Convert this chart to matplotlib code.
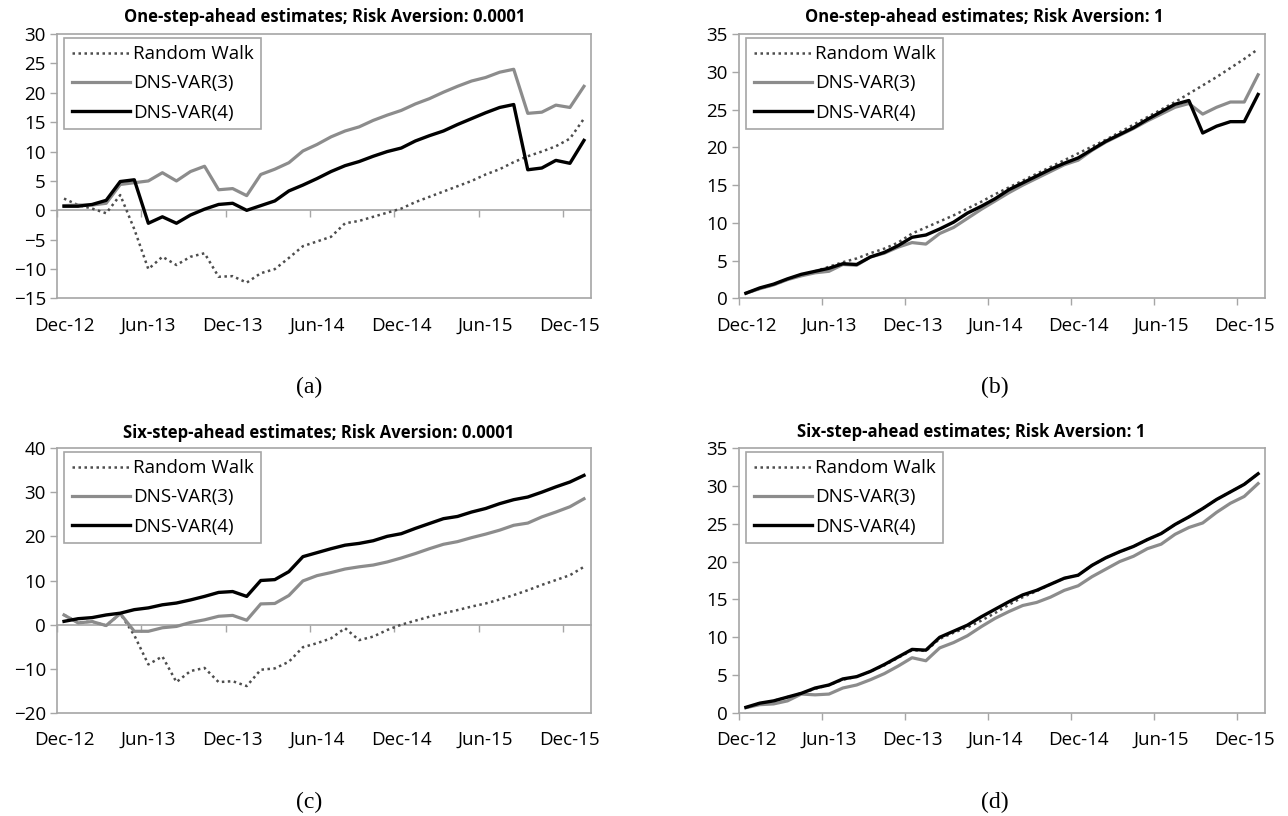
import numpy as np
import matplotlib.pyplot as plt

plt.rcParams['font.family'] = ['Open Sans', 'DejaVu Sans']

# monthly observations Dec-12 .. Jan-16
months = np.arange(38)
label_pos = [0, 6, 12, 18, 24, 30, 36]
tick_labels = ["Dec-12", "Jun-13", "Dec-13", "Jun-14", "Dec-14", "Jun-15", "Dec-15"]
series_names = ["Random Walk", "DNS-VAR(3)", "DNS-VAR(4)"]

# (a) one-step-ahead, risk aversion 0.0001
rw_a = [2.0, 0.9, 0.3, -0.5, 2.6, -3.2, -10.0, -7.9, -9.3, -7.9,
        -7.3, -11.3, -11.2, -12.3, -10.7, -10.0, -8.1, -6.1, -5.3, -4.5,
        -2.2, -1.8, -1.1, -0.4, 0.3, 1.4, 2.3, 3.2, 4.1, 5.0,
        6.1, 7.0, 8.2, 9.2, 10.0, 10.9, 12.2, 15.6]
var3_a = [0.8, 0.9, 0.9, 1.2, 4.4, 4.7, 5.0, 6.4, 5.0, 6.6,
          7.5, 3.5, 3.7, 2.5, 6.1, 7.0, 8.1, 10.1, 11.2, 12.5,
          13.5, 14.2, 15.3, 16.2, 17.0, 18.1, 19.0, 20.1, 21.1, 22.0,
          22.6, 23.5, 24.0, 16.5, 16.7, 17.9, 17.5, 21.1]
var4_a = [0.7, 0.7, 1.0, 1.7, 4.9, 5.2, -2.2, -1.1, -2.2, -0.8,
          0.2, 1.0, 1.2, 0.0, 0.8, 1.6, 3.3, 4.3, 5.4, 6.6,
          7.6, 8.3, 9.2, 10.0, 10.6, 11.8, 12.7, 13.5, 14.6, 15.6,
          16.6, 17.5, 18.0, 6.9, 7.2, 8.5, 8.0, 11.9]

# (b) one-step-ahead, risk aversion 1
rw_b = [0.7, 1.3, 1.8, 2.5, 3.1, 3.6, 4.2, 4.8, 5.3, 6.0,
        6.6, 7.4, 8.6, 9.4, 10.2, 11.0, 11.9, 12.8, 13.8, 14.7,
        15.6, 16.5, 17.4, 18.3, 19.2, 20.1, 21.0, 22.0, 23.0, 24.0,
        25.0, 26.0, 27.1, 28.2, 29.3, 30.5, 31.7, 33.0]
var3_b = [0.7, 1.3, 1.8, 2.5, 3.0, 3.4, 3.6, 4.5, 4.4, 5.5,
          6.0, 6.8, 7.4, 7.2, 8.6, 9.4, 10.6, 11.8, 12.9, 14.0,
          15.0, 15.9, 16.8, 17.7, 18.3, 19.6, 20.7, 21.6, 22.5, 23.5,
          24.4, 25.3, 25.8, 24.4, 25.3, 26.0, 26.0, 29.6]
var4_b = [0.7, 1.4, 1.9, 2.6, 3.2, 3.6, 4.0, 4.6, 4.5, 5.5,
          6.1, 7.0, 8.1, 8.4, 9.2, 10.1, 11.3, 12.2, 13.2, 14.4,
          15.3, 16.2, 17.1, 17.9, 18.6, 19.7, 20.8, 21.7, 22.6, 23.7,
          24.7, 25.7, 26.2, 21.9, 22.8, 23.4, 23.4, 27.0]

# (c) six-step-ahead, risk aversion 0.0001
rw_c = [2.2, 0.5, 0.7, -0.2, 2.5, -2.4, -9.0, -7.2, -13.0, -10.5,
        -9.8, -13.0, -12.8, -13.9, -10.2, -9.9, -8.4, -5.1, -4.2, -3.1,
        -0.8, -3.5, -2.7, -1.2, 0.0, 0.9, 1.8, 2.6, 3.3, 4.1,
        4.8, 5.7, 6.7, 7.8, 9.0, 10.1, 11.2, 13.1]
var3_c = [2.2, 0.4, 0.7, -0.2, 2.5, -1.5, -1.5, -0.7, -0.4, 0.5,
          1.1, 1.9, 2.1, 1.0, 4.7, 4.8, 6.6, 9.9, 11.1, 11.8,
          12.6, 13.1, 13.5, 14.2, 15.1, 16.1, 17.2, 18.2, 18.8, 19.7,
          20.5, 21.4, 22.5, 23.0, 24.4, 25.5, 26.7, 28.5]
var4_c = [0.75, 1.35, 1.6, 2.2, 2.6, 3.4, 3.8, 4.5, 4.9, 5.6,
          6.4, 7.3, 7.5, 6.4, 10.0, 10.2, 12.0, 15.4, 16.3, 17.2,
          18.0, 18.4, 19.0, 20.0, 20.6, 21.8, 22.9, 24.0, 24.5, 25.5,
          26.3, 27.4, 28.3, 28.9, 30.0, 31.2, 32.3, 33.8]

# (d) six-step-ahead, risk aversion 1
rw_d = [0.7, 1.3, 1.6, 2.1, 2.6, 3.2, 3.7, 4.4, 4.8, 5.5,
        6.3, 7.3, 8.3, 8.2, 9.8, 10.6, 11.3, 12.2, 13.2, 14.3,
        15.3, 16.1, 17.0, 17.8, 18.2, 19.5, 20.5, 21.3, 22.0, 22.9,
        23.7, 24.9, 25.9, 27.0, 28.2, 29.2, 30.2, 31.6]
var3_d = [0.7, 1.1, 1.2, 1.6, 2.5, 2.4, 2.5, 3.3, 3.7, 4.4,
          5.2, 6.2, 7.3, 6.9, 8.6, 9.3, 10.2, 11.4, 12.5, 13.4,
          14.2, 14.6, 15.3, 16.2, 16.8, 18.0, 19.0, 20.0, 20.7, 21.7,
          22.3, 23.6, 24.5, 25.1, 26.5, 27.7, 28.6, 30.3]
var4_d = [0.75, 1.3, 1.6, 2.1, 2.6, 3.3, 3.7, 4.5, 4.8, 5.5,
          6.4, 7.4, 8.4, 8.3, 10.0, 10.8, 11.6, 12.7, 13.7, 14.7,
          15.6, 16.2, 17.0, 17.8, 18.2, 19.5, 20.5, 21.3, 22.0, 22.9,
          23.7, 24.9, 25.9, 27.0, 28.2, 29.2, 30.2, 31.6]

AXIS_GREY = '#a6a6a6'


def draw_panel(ax, rw, var3, var4, ymin, ymax, ystep):
    """Draw one Excel-style line chart panel."""
    ax.plot(months, rw, color='#4d4d4d', lw=1.8, linestyle=(0, (1, 1.4)),
            label=series_names[0])
    ax.plot(months, var3, color='#8c8c8c', lw=2.3, label=series_names[1])
    ax.plot(months, var4, color='black', lw=2.4, label=series_names[2])

    ax.set_xlim(-0.5, 37.5)
    ax.set_ylim(ymin, ymax)
    ax.set_yticks(np.arange(ymin, ymax + 1, ystep))
    ax.tick_params(axis='y', direction='out', length=5, width=1,
                   color=AXIS_GREY, labelsize=13.5, pad=3)

    # labels sit under the categories, tick marks between categories
    ax.set_xticks(label_pos, tick_labels)
    ax.set_xticks([p - 0.5 for p in label_pos], minor=True)
    ax.tick_params(axis='x', which='major', length=0, labelsize=13.5, pad=13)
    for s in ax.spines.values():
        s.set_color(AXIS_GREY)
        s.set_linewidth(1.2)

    if ymin < 0:
        # horizontal axis crosses at zero
        ax.tick_params(axis='x', which='minor', length=0)
        zero = ax.secondary_xaxis((0 - ymin) / (ymax - ymin))
        zero.set_xticks([p - 0.5 for p in label_pos], [''] * len(label_pos))
        zero.tick_params(axis='x', direction='out', length=5, width=1,
                         color=AXIS_GREY)
        zero.spines['bottom'].set_color(AXIS_GREY)
        zero.spines['bottom'].set_linewidth(1.2)
    else:
        ax.tick_params(axis='x', which='minor', direction='out', length=5,
                       width=1, color=AXIS_GREY)

    leg = ax.legend(loc='upper left', bbox_to_anchor=(0.014, 0.986),
                    borderaxespad=0, fontsize=13.5, handlelength=3.1,
                    handletextpad=0.15, labelspacing=0.6, borderpad=0.4,
                    fancybox=False, framealpha=1, edgecolor=AXIS_GREY)
    leg.get_frame().set_linewidth(1.2)
    return ax


fig = plt.figure(figsize=(12.88, 8.16), dpi=100)
W, H = 1288.0, 816.0


def add_axes(left, top, right, bottom):
    return fig.add_axes([left / W, 1 - bottom / H, (right - left) / W,
                         (bottom - top) / H])


ax_a = add_axes(57, 34, 591, 298.5)
ax_b = add_axes(739, 34, 1265, 298.5)
ax_c = add_axes(57, 448, 591, 713)
ax_d = add_axes(739, 448, 1265, 713)

draw_panel(ax_a, rw_a, var3_a, var4_a, -15, 30, 5)
draw_panel(ax_b, rw_b, var3_b, var4_b, 0, 35, 5)
draw_panel(ax_c, rw_c, var3_c, var4_c, -20, 40, 10)
draw_panel(ax_d, rw_d, var3_d, var4_d, 0, 35, 5)

titles = [(325, 16.5, "One-step-ahead estimates; Risk Aversion: 0.0001"),
          (984, 16.5, "One-step-ahead estimates; Risk Aversion: 1"),
          (319, 432.5, "Six-step-ahead estimates; Risk Aversion: 0.0001"),
          (971, 432, "Six-step-ahead estimates; Risk Aversion: 1")]
for x, y, t in titles:
    fig.text(x / W, 1 - y / H, t, ha='center', va='center', fontsize=12,
             fontweight='bold')

captions = [(309, 387, "(a)"), (995, 387, "(b)"),
            (309, 802, "(c)"), (995, 802, "(d)")]
for x, y, t in captions:
    fig.text(x / W, 1 - y / H, t, ha='center', va='center', fontsize=17,
             family='Liberation Serif')

fig.savefig('out.png', dpi=100)
